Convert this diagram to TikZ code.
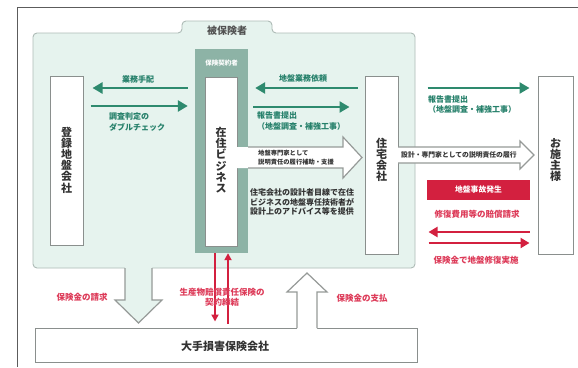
\documentclass[tikz,border=0pt]{standalone}
\usepackage{fontspec}
\setmainfont{Noto Sans CJK JP}
\usetikzlibrary{arrows.meta}
\definecolor{gline}{HTML}{2E8A6E}
\definecolor{gtext}{HTML}{25806A}
\definecolor{regfill}{HTML}{E6F3EE}
\definecolor{regline}{HTML}{AEBBB6}
\definecolor{dkfill}{HTML}{8DB3A6}
\definecolor{rline}{HTML}{D3203F}
\definecolor{rtext}{HTML}{DD3A58}
\definecolor{bord}{HTML}{8A8F8D}
\definecolor{ink}{HTML}{333333}
\begin{document}
\begin{tikzpicture}[x=1pt,y=-1pt,
  frame/.style={draw=ink!80, line width=0.9pt},
  region/.style={draw=regline, fill=regfill, line width=0.9pt, rounded corners=4pt},
  box/.style={draw=bord, fill=white, line width=1pt, inner sep=0pt},
  vt/.style={inner sep=0pt, align=center, text=ink, font=\bfseries\fontsize{11}{11.2}\selectfont},
  hollow/.style={draw=bord!90, line width=1.2pt, line join=miter},
  garrow/.style={draw=gline, line width=2.6pt, -{Triangle[length=10pt,width=11pt]}},
  rarrow/.style={draw=rline, line width=2.4pt, -{Triangle[length=9pt,width=10pt]}},
  rvarrow/.style={draw=rline, line width=1.8pt, -{Triangle[length=7pt,width=7pt]}},
  lbl/.style={inner sep=0pt, font=\bfseries\fontsize{8}{10.5}\selectfont},
  glbl/.style={lbl, text=gtext},
  rlbl/.style={lbl, text=rtext, font=\bfseries\fontsize{8.5}{9.5}\selectfont},
  blbl/.style={inner sep=0pt, text=ink},
]
\useasboundingbox (0,0) rectangle (578,367);
\fill[white] (0,0) rectangle (578,367);
% outer frame
\draw[frame] (578,7) -- (17,7) -- (17,367);
% insured region with tab
\draw[region] (33,268) -- (33,33) -- (182,33) -- (182,21) -- (272,21) -- (272,33) -- (415,33) -- (415,268) -- cycle;
\node[blbl, font=\bfseries\fontsize{10}{12}\selectfont, text=ink!85] (tabl) at (227,31) {被保険者};
% boxes
\node[box, minimum width=33pt, minimum height=169pt] (reg) at (66.5,160.5) {};
\node[vt] (regt) at (66.5,160) {登\\録\\地\\盤\\会\\社};
\node[fill=dkfill, inner sep=0pt, minimum width=53pt, minimum height=204pt] (dk) at (221.5,151) {};
\node[inner sep=0pt, text=white, font=\bfseries\fontsize{6.5}{8}\selectfont] (dkt) at (221.5,63) {保険契約者};
\node[box, minimum width=32pt, minimum height=169pt] (zj) at (221,161.5) {};
\node[vt] (zjt) at (221,160) {在\\住\\ビ\\ジ\\ネ\\ス};
\node[box, minimum width=33pt, minimum height=178pt] (jt) at (381.5,165) {};
\node[vt] (jtt) at (381.5,160) {住\\宅\\会\\社};
\node[box, minimum width=35pt, minimum height=178pt] (os) at (555.5,165) {};
\node[vt] (ost) at (555.5,160) {お\\施\\主\\様};
\node[box, minimum width=382pt, minimum height=34pt] (big) at (226,345) {};
\node[blbl, font=\bfseries\fontsize{11}{13}\selectfont] (bigt) at (225,346) {大手損害保険会社};
% green arrows left pair
\draw[garrow, shorten <=7pt, shorten >=9pt] (dk.west |- 0,88) -- (reg.east |- 0,88);
\draw[garrow, shorten <=7pt, shorten >=7pt] (reg.east |- 0,106) -- (dk.west |- 0,106);
\node[glbl] (l1) at (138,79) {業務手配};
\node[glbl, anchor=west, align=left] (l2) at (109,122) {調査判定の\\ダブルチェック};
% green arrows right pair
\draw[garrow, shorten <=7pt, shorten >=7pt] (jt.west |- 0,88) -- (dk.east |- 0,88);
\draw[garrow, shorten <=5pt, shorten >=15pt] (dk.east |- 0,107) -- (jt.west |- 0,107);
\node[glbl] (l3) at (303,78) {地盤業務依頼};
\node[glbl, anchor=west, align=left] (l4) at (257,121) {報告書提出\\（地盤調査・補強工事）};
% far right green arrow
\draw[garrow, shorten <=29pt, shorten >=8pt] (jt.east |- 0,88) -- (os.west |- 0,88);
\node[glbl, anchor=west, align=left, font=\bfseries\fontsize{8}{9.5}\selectfont] (l5) at (428,104.5) {報告書提出\\（地盤調査・補強工事）};
% hollow arrow 1
\fill[white] (236.5,147) -- (343,147) -- (343,137) -- (362,157.5) -- (343,178) -- (343,168) -- (236.5,168) -- cycle;
\draw[hollow] (248,147) -- (343,147) -- (343,137) -- (362,157.5) -- (343,178) -- (343,168) -- (248,168);
\node[lbl, text=ink, anchor=west, align=left, font=\bfseries\fontsize{6.3}{9}\selectfont] (l6) at (258,158) {地盤専門家として\\説明責任の履行補助・支援};
% hollow arrow 2
\fill[white] (397.5,147) -- (520,147) -- (520,141) -- (534,155) -- (520,169) -- (520,163) -- (397.5,163) -- cycle;
\draw[hollow] (398,147) -- (520,147) -- (520,141) -- (534,155) -- (520,169) -- (520,163) -- (398,163);
\node[lbl, text=ink, anchor=west, font=\bfseries\fontsize{6.8}{8}\selectfont] (l7) at (401,155) {設計・専門家としての説明責任の履行};
% advice text
\node[lbl, text=ink, anchor=west, align=left, font=\bfseries\fontsize{8}{9.8}\selectfont] (l8) at (250,202) {住宅会社の設計者目線で在住\\ビジネスの地盤専任技術者が\\設計上のアドバイス等を提供};
% accident
\node[fill=rline, inner sep=0pt, minimum width=103pt, minimum height=20pt, text=white, font=\bfseries\fontsize{7.8}{9}\selectfont] (acc) at (478.5,190) {地盤事故発生};
\node[rlbl] (l9) at (477,214) {修復費用等の賠償請求};
\draw[rarrow, shorten <=8pt, shorten >=30pt] (os.west |- 0,232) -- (jt.east |- 0,232);
\draw[rarrow, shorten <=30pt, shorten >=8pt] (jt.east |- 0,243) -- (os.west |- 0,243);
\node[rlbl] (l10) at (476,260) {保険金で地盤修復実施};
% hollow down arrow (claim)
\fill[regfill] (125,265) -- (125,300) -- (115,300) -- (138.5,323) -- (162,300) -- (152,300) -- (152,265) -- cycle;
\draw[hollow] (125,268) -- (125,300) -- (115,300) -- (138.5,323) -- (162,300) -- (152,300) -- (152,268);
\node[rlbl] (l11) at (82,297) {保険金の請求};
% hollow up arrow (payment)
\fill[white] (297,330) -- (297,292) -- (287,292) -- (307,273) -- (327,292) -- (317,292) -- (317,330) -- cycle;
\draw[hollow] (297,328) -- (297,292) -- (287,292) -- (307,273) -- (327,292) -- (317,292) -- (317,328);
\node[rlbl] (l12) at (362,298) {保険金の支払};
% red vertical arrows
\draw[rvarrow, shorten >=6pt] (dk.south -| 215,0) -- (big.north -| 215,0);
\draw[rvarrow, shorten <=4pt] (big.north -| 228,0) -- (dk.south -| 228,0);
\node[rlbl, align=center] (l13) at (222,297.5) {生産物賠償責任保険の\\契約締結};
\end{tikzpicture}
\end{document}
